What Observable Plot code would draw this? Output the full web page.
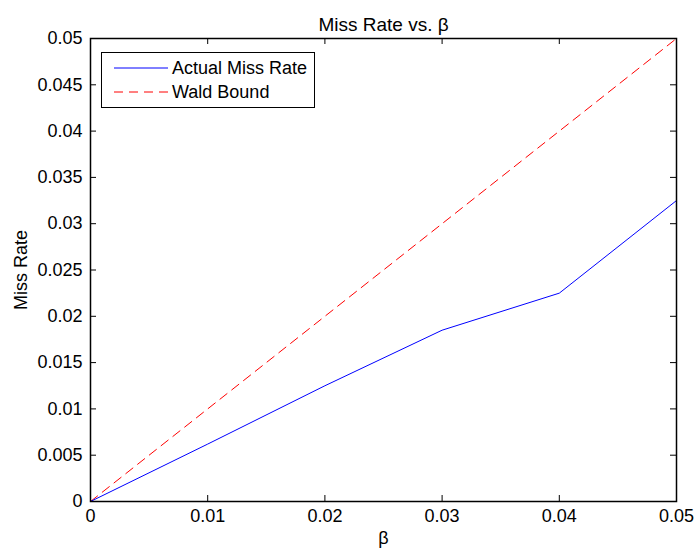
<!DOCTYPE html>
<html><head><meta charset="utf-8">
<script src="https://cdn.jsdelivr.net/npm/d3@7"></script>
<script src="https://cdn.jsdelivr.net/npm/@observablehq/plot@0.6"></script>
<style>
body{margin:0;background:#fff;font-family:"Liberation Sans",Arial,sans-serif;}
#wrap{position:relative;width:696px;height:553px;}
#legend{position:absolute;left:101px;top:52px;width:212px;height:54px;border:1.5px solid #000;background:#fff;font-size:18px;}
</style></head><body>
<div id="wrap"></div>
<script>
const beta = [0, 0.01, 0.02, 0.03, 0.04, 0.05];
const actualMiss = [0, 0.0062, 0.0125, 0.0185, 0.0225, 0.0325];
const waldBound = [0, 0.01, 0.02, 0.03, 0.04, 0.05];
const xTicks = [0, 0.01, 0.02, 0.03, 0.04, 0.05];
const yTicks = [0, 0.005, 0.01, 0.015, 0.02, 0.025, 0.03, 0.035, 0.04, 0.045, 0.05];
const seriesNames = ["Actual Miss Rate", "Wald Bound"];

const actual = beta.map((b, i) => ({b, v: actualMiss[i]}));
const wald = beta.map((b, i) => ({b, v: waldBound[i]}));
const fmt = d => d === 0 ? "0" : String(+d.toFixed(4));

const W = 696, H = 553, ML = 90, MR = 20, MT = 38, MB = 52;
const fw = W - ML - MR, fh = H - MT - MB, tl = 6;

const chart = Plot.plot({
  width: W, height: H,
  marginLeft: ML, marginRight: MR, marginTop: MT, marginBottom: MB,
  style: {fontFamily: "Liberation Sans, Arial, sans-serif", fontSize: "18px", color: "#000", background: "#fff"},
  x: {domain: [0, 0.05]},
  y: {domain: [0, 0.05]},
  marks: [
    Plot.axisX({ticks: xTicks, tickSize: 0, tickPadding: 8, tickFormat: fmt, label: "β", labelAnchor: "center", labelArrow: "none", labelOffset: 42, fontSize: 18}),
    Plot.axisY({ticks: yTicks, tickSize: 0, tickPadding: 8, tickFormat: fmt, label: "Miss Rate", labelAnchor: "center", labelArrow: "none", labelOffset: 76, fontSize: 18}),
    // inward ticks on all four sides
    Plot.tickX(xTicks, {x: d => d, insetTop: fh - tl, stroke: "#000"}),
    Plot.tickX(xTicks, {x: d => d, insetBottom: fh - tl, stroke: "#000"}),
    Plot.tickY(yTicks, {y: d => d, insetRight: fw - tl, stroke: "#000"}),
    Plot.tickY(yTicks, {y: d => d, insetLeft: fw - tl, stroke: "#000"}),
    Plot.line(wald, {x: "b", y: "v", stroke: "#ff0000", strokeWidth: 1, strokeDasharray: "9,6"}),
    Plot.line(actual, {x: "b", y: "v", stroke: "#0000ff", strokeWidth: 1}),
    Plot.frame({stroke: "#000", strokeWidth: 1.5}),
    Plot.text(["Miss Rate vs. β"], {frameAnchor: "top", dy: -21, fontSize: 19, fill: "#000"})
  ]
});
document.getElementById("wrap").appendChild(chart);

const leg = document.createElement("div");
leg.id = "legend";
leg.innerHTML = `<svg width="212" height="54" style="display:block">
  <line x1="12" x2="66" y1="15" y2="15" stroke="#0000ff" stroke-width="1"/>
  <line x1="12" x2="66" y1="39" y2="39" stroke="#ff0000" stroke-width="1" stroke-dasharray="9,6"/>
  <text x="70" y="21" font-size="18" fill="#000">${seriesNames[0]}</text>
  <text x="70" y="45" font-size="18" fill="#000">${seriesNames[1]}</text>
</svg>`;
document.getElementById("wrap").appendChild(leg);
</script>
</body></html>
